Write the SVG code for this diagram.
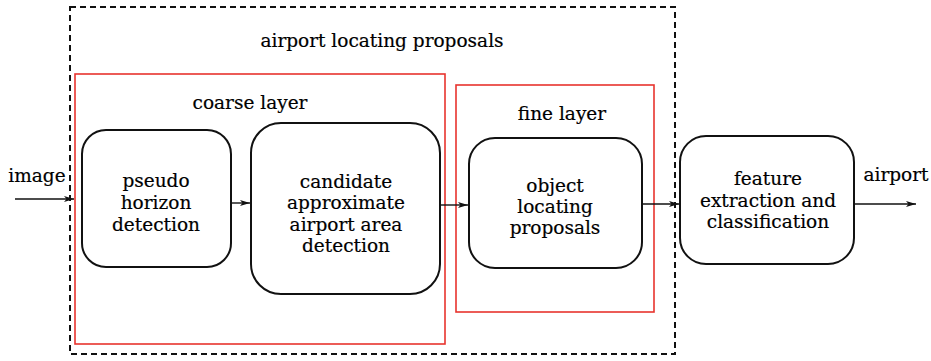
<svg xmlns="http://www.w3.org/2000/svg" width="931" height="361" viewBox="0 0 931 361">
<defs>
<style>
text{font-family:"DejaVu Serif","Liberation Serif",serif;font-size:18.5px;fill:#000;stroke:#000;stroke-width:0.2;text-anchor:middle}
.node{fill:#fff;stroke:#111;stroke-width:2}
.red{fill:none;stroke:#e8342e;stroke-width:1.6}
.dash{fill:none;stroke:#111;stroke-width:2;stroke-dasharray:6 4}
.conn{fill:none;stroke:#111;stroke-width:1.4;marker-end:url(#ah)}
</style>
<marker id="ah" viewBox="0 0 10 6" refX="10" refY="3" markerWidth="10" markerHeight="6" markerUnits="userSpaceOnUse" orient="auto">
<path d="M0,0 L10,3 L0,6 L2.5,3 Z" fill="#111"/>
</marker>
</defs>
<rect width="931" height="361" fill="#fff"/>
<g id="outer">
<rect class="dash" x="70" y="7" width="605" height="347"/>
<text x="382" y="47">airport locating proposals</text>
</g>
<g id="coarse">
<rect class="red" x="75" y="74" width="370" height="270"/>
<text x="250" y="109">coarse layer</text>
</g>
<g id="fine">
<rect class="red" x="456" y="85" width="198" height="227"/>
<text x="562" y="120">fine layer</text>
</g>
<g id="pseudo">
<rect class="node" x="82" y="130" width="149" height="137" rx="24"/>
<text x="156" y="187">pseudo</text>
<text x="156" y="209">horizon</text>
<text x="156" y="231">detection</text>
</g>
<g id="candidate">
<rect class="node" x="251" y="123" width="189" height="171" rx="30"/>
<text x="346" y="188">candidate</text>
<text x="346" y="209">approximate</text>
<text x="346" y="231">airport area</text>
<text x="346" y="252">detection</text>
</g>
<g id="object">
<rect class="node" x="469" y="138" width="173" height="130" rx="26"/>
<text x="555" y="192">object</text>
<text x="555" y="213">locating</text>
<text x="555" y="234">proposals</text>
</g>
<g id="feature">
<rect class="node" x="680" y="136" width="174" height="128" rx="26"/>
<text x="768" y="185">feature</text>
<text x="768" y="207">extraction and</text>
<text x="768" y="228">classification</text>
</g>
<g id="labels">
<text x="37" y="182">image</text>
<text x="896" y="181">airport</text>
</g>
<g id="connectors">
<line class="conn" x1="15" y1="199" x2="74" y2="199"/>
<line class="conn" x1="231" y1="203" x2="250" y2="203"/>
<line class="conn" x1="440" y1="205" x2="468" y2="205"/>
<line class="conn" x1="642" y1="204" x2="679" y2="204"/>
<line class="conn" x1="854" y1="204" x2="916" y2="204"/>
</g>
</svg>
